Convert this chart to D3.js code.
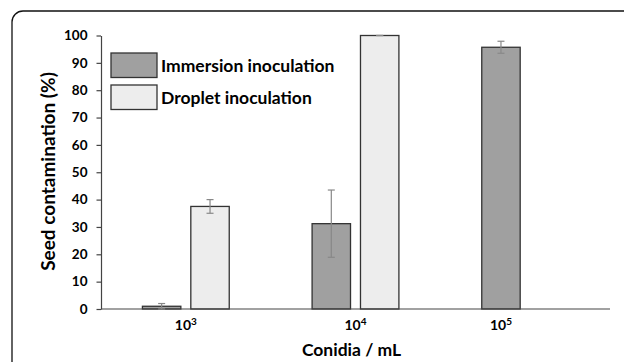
<!DOCTYPE html>
<html>
<head>
<meta charset="utf-8">
<script src="https://cdn.jsdelivr.net/npm/d3@7"></script>
<style>
  body { margin: 0; background: #fff; }
  text { font-family: Lato, "Open Sans", sans-serif; font-weight: bold; fill: #000; }
</style>
</head>
<body>
<div class="chart"></div>
<script>
// data
var categories = ["3", "4", "5"];          // exponents of 10
var series = ["Immersion inoculation", "Droplet inoculation"];
var immersion = [1.0, 31.2, 95.7];
var immersionErr = [1.0, 12.3, 2.2];
var droplet = [37.5, 100, null];
var dropletErr = [2.5, 0, null];
var yTicks = [0, 10, 20, 30, 40, 50, 60, 70, 80, 90, 100];

var svgWidth = 624;
var svgHeight = 362;

var svg = d3.select(".chart")
  .append("svg")
  .attr("width", svgWidth)
  .attr("height", svgHeight);

// frame
svg.append("rect")
  .attr("x", 12)
  .attr("y", 11)
  .attr("width", 640)
  .attr("height", 380)
  .attr("rx", 11)
  .attr("fill", "none")
  .attr("stroke", "#111")
  .attr("stroke-width", 1.3);

var plotLeft = 101, plotRight = 610, plotTop = 35.5, plotBottom = 309;

var xScale = d3.scaleBand()
  .domain(categories)
  .range([plotLeft, plotRight]);

var inner = d3.scaleBand()
  .domain(series)
  .range([0, xScale.bandwidth()])
  .paddingInner(0.206)
  .paddingOuter(0.856);

var yScale = d3.scaleLinear()
  .domain([0, 100])
  .range([plotBottom, plotTop]);

// y axis
var leftAxis = d3.axisLeft(yScale)
  .tickValues(yTicks)
  .tickSize(4.5)
  .tickSizeOuter(0)
  .tickPadding(9);

var yAxis = svg.append("g")
  .attr("transform", `translate(${plotLeft}, 0)`)
  .call(leftAxis);
yAxis.select(".domain").attr("stroke", "#444").attr("stroke-width", 1.2);
yAxis.selectAll(".tick line").attr("stroke", "#444").attr("stroke-width", 1.2);
yAxis.selectAll(".tick text")
  .style("font-family", "Lato, sans-serif")
  .style("font-weight", "bold")
  .style("font-size", "13.5px")
  .attr("fill", "#000");

// bars
var rows = [];
categories.forEach(function(c, i) {
  rows.push({cat: c, s: series[0], v: immersion[i], e: immersionErr[i], fill: "#a0a0a0"});
  if (droplet[i] !== null) {
    rows.push({cat: c, s: series[1], v: droplet[i], e: dropletErr[i], fill: "#ededed"});
  }
});

svg.selectAll("rect.bar")
  .data(rows)
  .enter()
  .append("rect")
  .attr("class", "bar")
  .attr("x", d => xScale(d.cat) + inner(d.s))
  .attr("y", d => yScale(d.v))
  .attr("width", inner.bandwidth())
  .attr("height", d => yScale(0) - yScale(d.v))
  .attr("fill", d => d.fill)
  .attr("stroke", "#333")
  .attr("stroke-width", 1.3);

// x axis line (drawn over bar bottoms)
svg.append("line")
  .attr("x1", plotLeft).attr("x2", plotRight)
  .attr("y1", plotBottom).attr("y2", plotBottom)
  .attr("stroke", "#444")
  .attr("stroke-width", 1.2);

// error bars
var errG = svg.append("g").attr("stroke", "#888").attr("stroke-width", 1.2);
rows.forEach(function(d) {
  var cx = xScale(d.cat) + inner(d.s) + inner.bandwidth() / 2;
  var y1 = yScale(Math.min(d.v + d.e, 100));
  var y2 = yScale(d.v - d.e);
  errG.append("line").attr("x1", cx).attr("x2", cx).attr("y1", y1).attr("y2", y2);
  errG.append("line").attr("x1", cx - 3.5).attr("x2", cx + 3.5).attr("y1", y1).attr("y2", y1);
  errG.append("line").attr("x1", cx - 3.5).attr("x2", cx + 3.5).attr("y1", y2).attr("y2", y2);
});

// category labels, centred under the bars that are drawn
categories.forEach(function(c) {
  var here = rows.filter(r => r.cat === c);
  var x0 = d3.min(here, r => xScale(r.cat) + inner(r.s));
  var x1 = d3.max(here, r => xScale(r.cat) + inner(r.s) + inner.bandwidth());
  var t = svg.append("text")
    .attr("x", (x0 + x1) / 2)
    .attr("y", 330)
    .attr("text-anchor", "middle")
    .style("font-size", "14px");
  t.append("tspan").text("10");
  t.append("tspan").attr("dy", -5).style("font-size", "10px").text(c);
});

// axis titles
svg.append("text")
  .attr("transform", "rotate(-90)")
  .attr("x", -171.5)
  .attr("y", 55)
  .attr("text-anchor", "middle")
  .style("font-size", "19px")
  .text("Seed contamination (%)");

svg.append("text")
  .attr("x", 351.5)
  .attr("y", 356)
  .attr("text-anchor", "middle")
  .style("font-size", "17.5px")
  .text("Conidia / mL");

// legend
var legendFills = ["#a0a0a0", "#ededed"];
var legend = svg.selectAll("g.legend")
  .data(series)
  .enter()
  .append("g")
  .attr("class", "legend")
  .attr("transform", (d, i) => `translate(111, ${53 + i * 32})`);

legend.append("rect")
  .attr("width", 46)
  .attr("height", 24.5)
  .attr("fill", (d, i) => legendFills[i])
  .attr("stroke", "#333")
  .attr("stroke-width", 1.3);

legend.append("text")
  .attr("x", 50)
  .attr("y", 18.5)
  .style("font-size", "17.5px")
  .text(d => d);
</script>
</body>
</html>
